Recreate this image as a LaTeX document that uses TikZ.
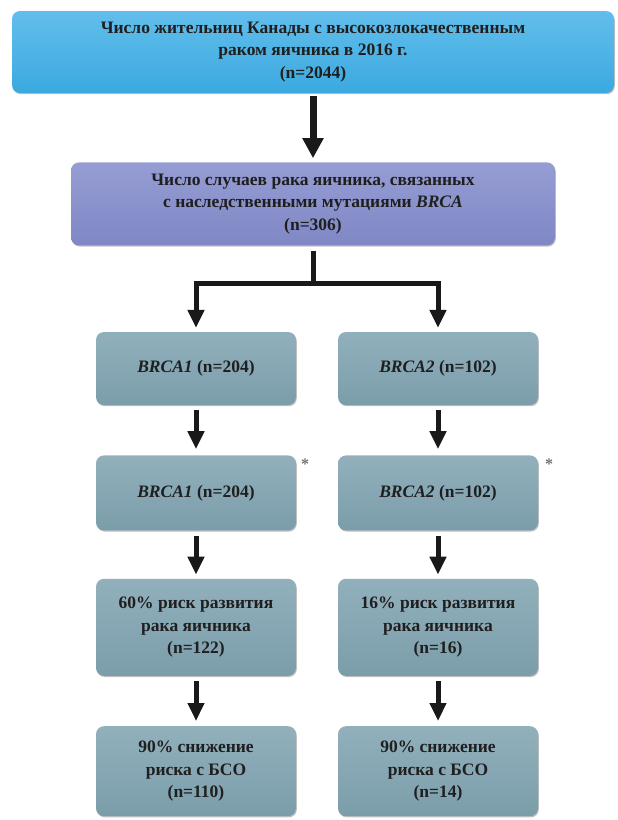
\documentclass[tikz,border=0pt]{standalone}
\usepackage{fontspec}
\setmainfont{Liberation Serif}
\usepackage{tikz}
\usetikzlibrary{positioning,arrows.meta,shadows}
\definecolor{skyfill}{RGB}{59,169,223}
\definecolor{skytop}{RGB}{98,190,236}
\definecolor{lilacfill}{RGB}{127,135,197}
\definecolor{lilactop}{RGB}{150,157,212}
\definecolor{slatefill}{RGB}{123,157,170}
\definecolor{slatetop}{RGB}{145,176,188}
\tikzset{
  basebox/.style={rectangle,rounded corners=8pt,align=center,font=\bfseries\fontsize{17.5}{22.5}\selectfont,text=black!88,inner sep=2pt,drop shadow={shadow xshift=0.8pt,shadow yshift=-1.2pt,fill=black,opacity=0.25}},
  topbox/.style={basebox,top color=skytop,bottom color=skyfill,minimum width=602pt,minimum height=82pt},
  casebox/.style={basebox,top color=lilactop,bottom color=lilacfill,minimum width=484pt,minimum height=83pt},
  genebox/.style={basebox,top color=slatetop,bottom color=slatefill,minimum width=200pt},
  note/.style={font=\bfseries\fontsize{16}{16}\selectfont,text=black!55,inner sep=0pt},
  edge/.style={-{Triangle[width=16pt,length=18pt]},line width=5pt,black!90},
  bigedge/.style={-{Triangle[width=20pt,length=20pt]},line width=7pt,black!90},
  trunk/.style={line width=5pt,black!90}
}

\begin{document}
\begin{tikzpicture}[x=1pt,y=1pt,node distance=50pt]
  \useasboundingbox (0,0) rectangle (618,-820);
  \node[topbox] (total) at (313,-52) {Число жительниц Канады с высокозлокачественным\\раком яичника в 2016 г.\\(n=2044)};
  \node[casebox,below=69pt of total] (cases) {Число случаев рака яичника, связанных\\с наследственными мутациями \textit{BRCA}\\(n=306)};
  \coordinate[below=38pt of cases.south] (split);
  \node[genebox,minimum height=73pt] (b1a) at (196,-368.5) {\textit{BRCA1} (n=204)};
  \node[genebox,minimum height=73pt] (b2a) at (438,-368.5) {\textit{BRCA2} (n=102)};
  \node[genebox,minimum height=75pt,below=of b1a] (b1b) {\textit{BRCA1} (n=204)};
  \node[genebox,minimum height=75pt,below=of b2a] (b2b) {\textit{BRCA2} (n=102)};
  \node[genebox,minimum height=97pt,below=48pt of b1b] (b1c) {60\% риск развития\\рака яичника\\(n=122)};
  \node[genebox,minimum height=97pt,below=48pt of b2b] (b2c) {16\% риск развития\\рака яичника\\(n=16)};
  \node[genebox,minimum height=90pt,below=of b1c] (b1d) {90\% снижение\\риска с БСО\\(n=110)};
  \node[genebox,minimum height=90pt,below=of b2c] (b2d) {90\% снижение\\риска с БСО\\(n=14)};
  \node[note] (ast1) at ([shift={(9pt,-9pt)}]b1b.north east) {*};
  \node[note] (ast2) at ([shift={(11pt,-9pt)}]b2b.north east) {*};
  % arrows
  \draw[bigedge,shorten <=3pt,shorten >=4pt] (total) -- (cases);
  \draw[trunk,shorten <=5pt] (cases.south) -- (split);
  \draw[edge,shorten >=4pt] (split) -| (b1a.north);
  \draw[edge,shorten >=4pt] (split) -| (b2a.north);
  \draw[edge,shorten <=5pt,shorten >=6pt] (b1a) -- (b1b);
  \draw[edge,shorten <=5pt,shorten >=6pt] (b2a) -- (b2b);
  \draw[edge,shorten <=5pt,shorten >=4pt] (b1b) -- (b1c);
  \draw[edge,shorten <=5pt,shorten >=4pt] (b2b) -- (b2c);
  \draw[edge,shorten <=5pt,shorten >=5pt] (b1c) -- (b1d);
  \draw[edge,shorten <=5pt,shorten >=5pt] (b2c) -- (b2d);
\end{tikzpicture}
\end{document}
